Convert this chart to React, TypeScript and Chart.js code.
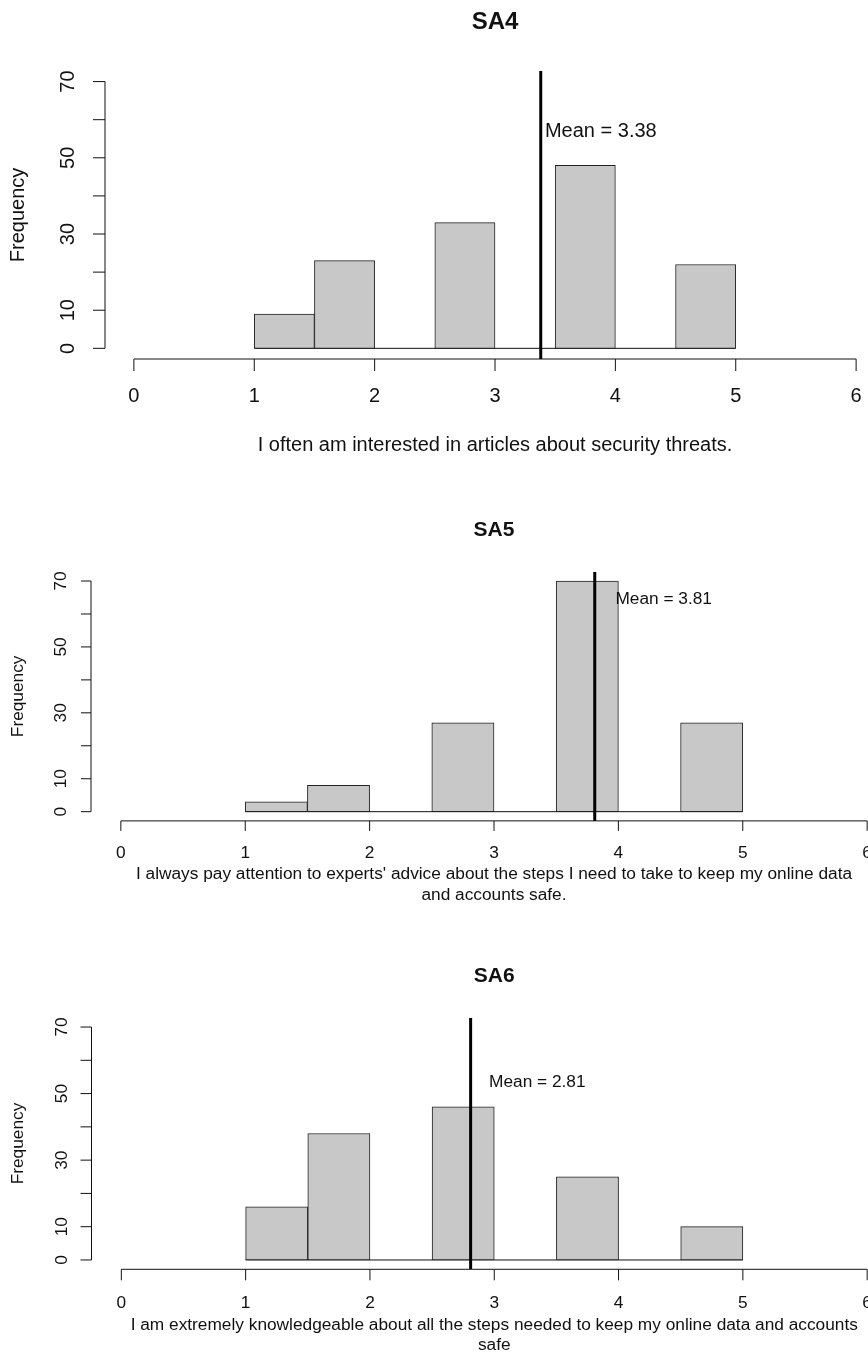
import { useEffect, useRef } from "react";
import { Chart, registerables } from "chart.js";

Chart.register(...registerables);

// Histogram bins (width 0.5) shared by all three items
const BIN_EDGES = [1, 1.5, 2, 2.5, 3, 3.5, 4, 4.5, 5];
const SA4_COUNTS = [9, 23, 0, 33, 0, 48, 0, 22];
const SA5_COUNTS = [3, 8, 0, 27, 0, 70, 0, 27];
const SA6_COUNTS = [16, 38, 0, 46, 0, 25, 0, 10];
const MEANS = [3.38, 3.81, 2.81];
const TITLES = ["SA4", "SA5", "SA6"];
const X_TITLES = [
  ["I often am interested in articles about security threats."],
  [
    "I always pay attention to experts' advice about the steps I need to take to keep my online data",
    "and accounts safe.",
  ],
  [
    "I am extremely knowledgeable about all the steps needed to keep my online data and accounts",
    "safe",
  ],
];
const X_TICKS = [0, 1, 2, 3, 4, 5, 6];
const Y_TICKS = [0, 10, 20, 30, 40, 50, 60, 70];
const Y_TICK_LABELS = ["0", "10", "", "30", "", "50", "", "70"];
const Y_TITLE = "Frequency";
const X_RANGE = [-0.24, 6.24];
const Y_RANGE = [-2.8, 72.8];

const COUNTS = [SA4_COUNTS, SA5_COUNTS, SA6_COUNTS];

const FONT = "'Liberation Sans', Arial, Helvetica, sans-serif";
const INK = "#111";

// Page placement and typography of each panel (page coordinates)
const LAYOUT = [
  {
    top: 0, height: 470, width: 885,
    pad: { left: 105, right: 0, top: 70.9, bottom: 111 },
    font: 20, titleFont: 24, titleY: 22, tickLen: 12,
    xTickLabelY: 396.5, yTickLabelX: 68.5, yTitleX: 18.5,
    xTitleY: [445], labelDx: 0.035, labelY: 57,
  },
  {
    top: 470, height: 460, width: 897,
    pad: { left: 91, right: 0, top: 101.8, bottom: 109.1 },
    font: 17.3, titleFont: 21, titleY: 530.7, tickLen: 10,
    xTickLabelY: 853, yTickLabelX: 61.5, yTitleX: 18,
    xTitleY: [874, 895], labelDx: 0.166, labelY: 64.5,
  },
  {
    top: 930, height: 426, width: 897,
    pad: { left: 91.5, right: 0, top: 87.7, bottom: 86.7 },
    font: 17.3, titleFont: 21, titleY: 976.7, tickLen: 11,
    xTickLabelY: 1303, yTickLabelX: 62, yTitleX: 18,
    xTitleY: [1325, 1345], labelDx: 0.148, labelY: 53.3,
  },
];

function Histogram({ index }: { index: number }) {
  const ref = useRef<HTMLCanvasElement | null>(null);
  const L = LAYOUT[index];

  useEffect(() => {
    if (!ref.current) return;
    const counts = COUNTS[index];
    const mean = MEANS[index];
    const bars = counts.map((c, i) => ({
      x: (BIN_EDGES[i] + BIN_EDGES[i + 1]) / 2,
      y: c,
    }));

    // Base-graphics style axes, labels and annotation
    const rAxes = {
      id: "rAxes",
      afterDraw(chart: any) {
        const ctx = chart.ctx as CanvasRenderingContext2D;
        const xs = chart.scales.x;
        const ys = chart.scales.y;
        const area = chart.chartArea;
        const off = L.top;
        ctx.save();
        ctx.strokeStyle = INK;
        ctx.fillStyle = INK;
        ctx.lineWidth = 1;

        // y axis
        const yAxisX = area.left;
        ctx.beginPath();
        ctx.moveTo(yAxisX, ys.getPixelForValue(Y_TICKS[0]));
        ctx.lineTo(yAxisX, ys.getPixelForValue(Y_TICKS[Y_TICKS.length - 1]));
        Y_TICKS.forEach((v) => {
          const py = ys.getPixelForValue(v);
          ctx.moveTo(yAxisX, py);
          ctx.lineTo(yAxisX - L.tickLen, py);
        });
        ctx.stroke();
        ctx.font = `${L.font}px ${FONT}`;
        ctx.textAlign = "center";
        ctx.textBaseline = "middle";
        Y_TICKS.forEach((v, i) => {
          const label = Y_TICK_LABELS[i];
          if (!label) return;
          ctx.save();
          ctx.translate(L.yTickLabelX, ys.getPixelForValue(v));
          ctx.rotate(-Math.PI / 2);
          ctx.fillText(label, 0, 0);
          ctx.restore();
        });

        // x axis
        const xAxisY = area.bottom;
        ctx.beginPath();
        ctx.moveTo(xs.getPixelForValue(X_TICKS[0]), xAxisY);
        ctx.lineTo(xs.getPixelForValue(X_TICKS[X_TICKS.length - 1]), xAxisY);
        X_TICKS.forEach((v) => {
          const px = xs.getPixelForValue(v);
          ctx.moveTo(px, xAxisY);
          ctx.lineTo(px, xAxisY + L.tickLen);
        });
        ctx.stroke();
        X_TICKS.forEach((v) => {
          ctx.fillText(String(v), xs.getPixelForValue(v), L.xTickLabelY - off);
        });

        const cx = (area.left + area.right) / 2;

        // axis titles
        X_TITLES[index].forEach((line, i) => {
          ctx.fillText(line, cx, L.xTitleY[i] - off);
        });
        ctx.save();
        ctx.translate(L.yTitleX, (area.top + area.bottom) / 2);
        ctx.rotate(-Math.PI / 2);
        ctx.fillText(Y_TITLE, 0, 0);
        ctx.restore();

        // mean annotation
        ctx.textAlign = "left";
        ctx.fillText(
          `Mean = ${mean.toFixed(2)}`,
          xs.getPixelForValue(mean + L.labelDx),
          ys.getPixelForValue(L.labelY)
        );

        // main title
        ctx.textAlign = "center";
        ctx.font = `bold ${L.titleFont}px ${FONT}`;
        ctx.fillText(TITLES[index], cx, L.titleY - off);
        ctx.restore();
      },
    };

    const chart = new Chart(ref.current, {
      type: "bar",
      data: {
        datasets: [
          {
            type: "line",
            data: [
              { x: BIN_EDGES[0], y: 0 },
              { x: BIN_EDGES[BIN_EDGES.length - 1], y: 0 },
            ],
            borderColor: INK,
            borderWidth: 1,
            pointRadius: 0,
            order: 3,
          } as any,
          {
            type: "bar",
            data: bars,
            backgroundColor: "#c8c8c8",
            borderColor: "#222",
            borderWidth: 1,
            borderSkipped: false,
            barPercentage: 1,
            categoryPercentage: 1,
            order: 2,
          } as any,
          {
            type: "line",
            data: [
              { x: mean, y: Y_RANGE[0] },
              { x: mean, y: Y_RANGE[1] },
            ],
            borderColor: "#000",
            borderWidth: 3,
            pointRadius: 0,
            order: 1,
          } as any,
        ],
      },
      options: {
        responsive: false,
        animation: false,
        devicePixelRatio: 1,
        layout: { padding: L.pad },
        plugins: {
          legend: { display: false },
          title: { display: false },
          tooltip: { enabled: false },
        },
        scales: {
          x: {
            type: "linear",
            min: X_RANGE[0],
            max: X_RANGE[1],
            display: false,
            offset: false,
            afterBuildTicks: (scale: any) => {
              scale.ticks = X_TICKS.map((v) => ({ value: v }));
            },
          },
          y: {
            type: "linear",
            min: Y_RANGE[0],
            max: Y_RANGE[1],
            display: false,
          },
        },
      } as any,
      plugins: [rAxes],
    });
    return () => chart.destroy();
  }, [index]);

  return (
    <canvas
      ref={ref}
      width={L.width}
      height={L.height}
      style={{ position: "absolute", left: 0, top: L.top, display: "block" }}
    />
  );
}

export default function App() {
  return (
    <div
      style={{
        position: "absolute",
        left: 0,
        top: 0,
        width: 868,
        height: 1356,
        overflow: "hidden",
        background: "#fff",
      }}
    >
      {TITLES.map((t, i) => (
        <Histogram key={t} index={i} />
      ))}
    </div>
  );
}
